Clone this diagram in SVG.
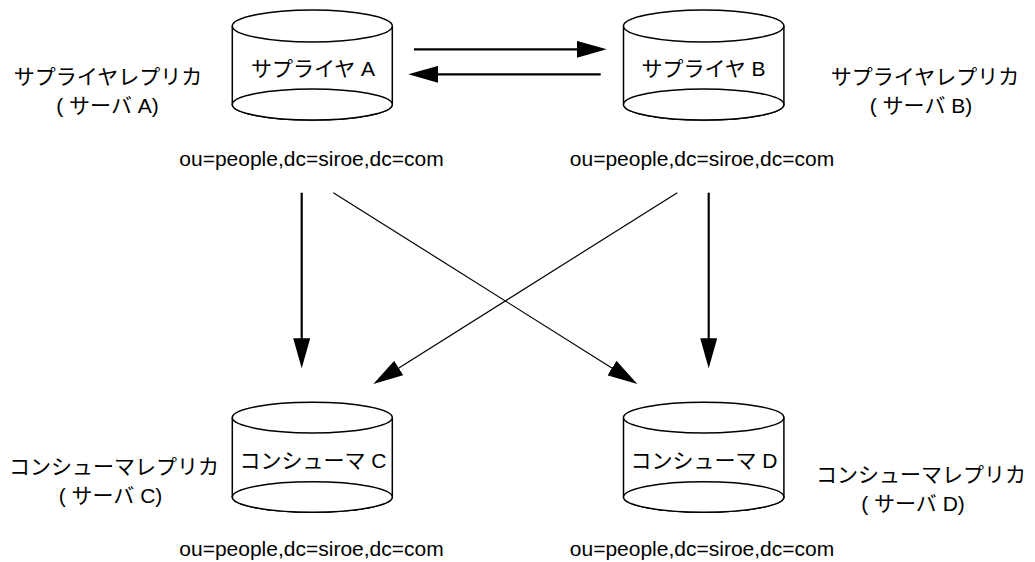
<svg xmlns="http://www.w3.org/2000/svg" width="1035" height="562" viewBox="0 0 1035 562">
<style>
text{font-family:"Liberation Sans","Noto Sans CJK JP",sans-serif;font-size:21px;fill:#000;text-anchor:middle}
.cyl{fill:#fff;stroke:#000;stroke-width:1.5}
.thick{stroke:#000;stroke-width:2.2;fill:none}
.thin{stroke:#000;stroke-width:1.2;fill:none}
</style>
<defs>
<marker id="ah" markerUnits="userSpaceOnUse" markerWidth="30" markerHeight="17" refX="5" refY="8.5" orient="auto" viewBox="0 0 30 17">
<path d="M0,0 L30,8.5 L0,17 z" fill="#000"/>
</marker>
</defs>
<rect width="1035" height="562" fill="#fff"/>
<g id="nodeA">
<path class="cyl" d="M232.3,26 V104.5 A80,15.5 0 0 0 392.3,104.5 V26"/>
<ellipse class="cyl" cx="312.3" cy="26" rx="80" ry="16"/>
<ellipse class="cyl" cx="312.3" cy="104.5" rx="80" ry="15.5"/>
<text x="313" y="76">サプライヤ A</text>
</g>
<g id="nodeB">
<path class="cyl" d="M623.5,26 V104.5 A80.2,15.5 0 0 0 783.9,104.5 V26"/>
<ellipse class="cyl" cx="703.7" cy="26" rx="80.2" ry="16"/>
<ellipse class="cyl" cx="703.7" cy="104.5" rx="80.2" ry="15.5"/>
<text x="703.5" y="76">サプライヤ B</text>
</g>
<g id="nodeC">
<path class="cyl" d="M232.3,417.6 V497 A80,15.3 0 0 0 392.3,497 V417.6"/>
<ellipse class="cyl" cx="312.3" cy="417.6" rx="80" ry="15.3"/>
<ellipse class="cyl" cx="312.3" cy="497" rx="80" ry="15.3"/>
<text x="313" y="468">コンシューマ C</text>
</g>
<g id="nodeD">
<path class="cyl" d="M623.5,417.6 V497 A80.2,15.3 0 0 0 783.9,497 V417.6"/>
<ellipse class="cyl" cx="703.7" cy="417.6" rx="80.2" ry="15.3"/>
<ellipse class="cyl" cx="703.7" cy="497" rx="80.2" ry="15.3"/>
<text x="704" y="468">コンシューマ D</text>
</g>
<g id="labels">
<text x="108" y="84">サプライヤレプリカ</text>
<text x="107.5" y="113">( サーバ A)</text>
<text x="925" y="84">サプライヤレプリカ</text>
<text x="921" y="113">( サーバ B)</text>
<text x="114" y="474">コンシューマレプリカ</text>
<text x="110.5" y="503">( サーバ C)</text>
<text x="921" y="482">コンシューマレプリカ</text>
<text x="913" y="511">( サーバ D)</text>
<text x="311.5" y="166">ou=people,dc=siroe,dc=com</text>
<text x="702" y="166">ou=people,dc=siroe,dc=com</text>
<text x="311.5" y="556">ou=people,dc=siroe,dc=com</text>
<text x="702" y="556">ou=people,dc=siroe,dc=com</text>
</g>
<g id="connectors">
<line class="thick" x1="414" y1="49.3" x2="581.7" y2="49.3" marker-end="url(#ah)"/>
<line class="thick" x1="600.7" y1="74.3" x2="433.3" y2="74.3" marker-end="url(#ah)"/>
<line class="thick" x1="301.7" y1="192.7" x2="301.7" y2="343.3" marker-end="url(#ah)"/>
<line class="thick" x1="708.7" y1="192.7" x2="708.7" y2="343.3" marker-end="url(#ah)"/>
<line class="thin" x1="333.3" y1="192.7" x2="616.2" y2="370.7" marker-end="url(#ah)"/>
<line class="thin" x1="677.3" y1="192.7" x2="394.5" y2="370.7" marker-end="url(#ah)"/>
</g>
</svg>
